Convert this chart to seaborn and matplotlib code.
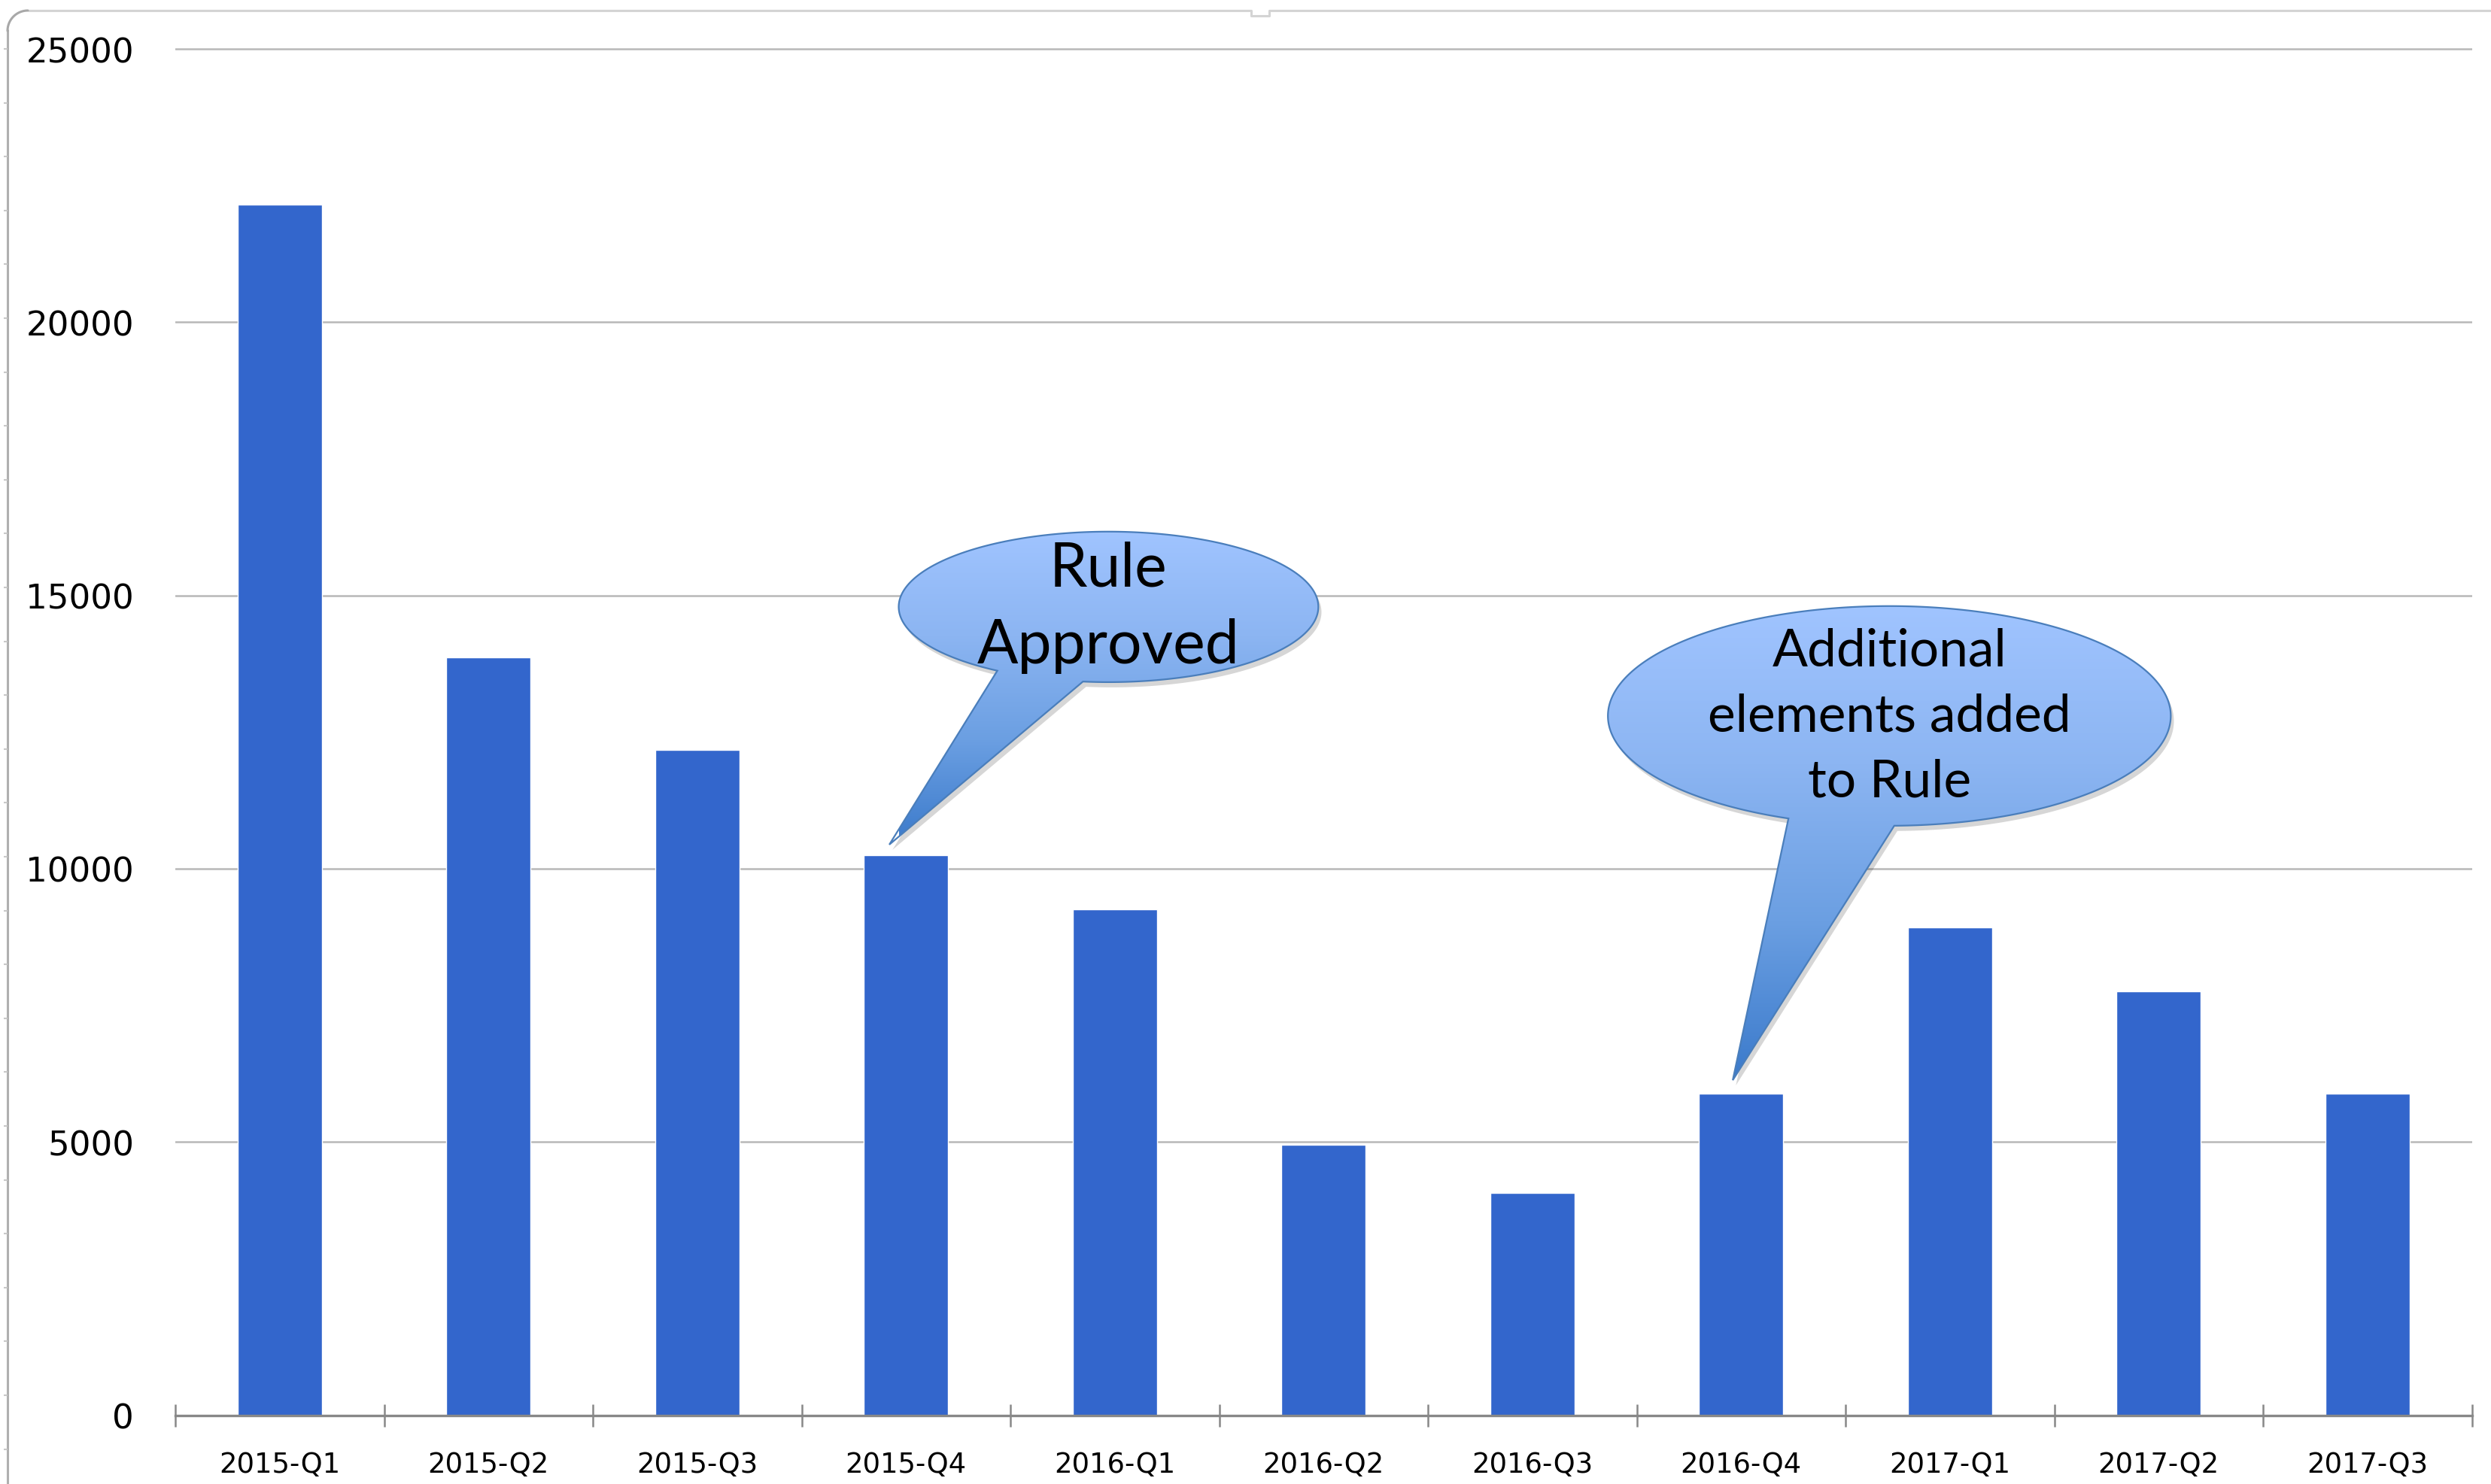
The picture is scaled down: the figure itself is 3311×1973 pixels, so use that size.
import numpy as np
import pandas as pd
import matplotlib
matplotlib.use("Agg")
import matplotlib.pyplot as plt
import matplotlib.transforms as mtransforms
import seaborn as sns
from matplotlib.path import Path
from matplotlib.patches import PathPatch
from matplotlib.lines import Line2D
from matplotlib.colors import LinearSegmentedColormap

# Quarterly counts
quarters = ["2015-Q1", "2015-Q2", "2015-Q3", "2015-Q4", "2016-Q1", "2016-Q2",
            "2016-Q3", "2016-Q4", "2017-Q1", "2017-Q2", "2017-Q3"]
counts = [22150, 13870, 12180, 10250, 9250, 4950, 4070, 5880, 8930, 7760, 5880]

y_ticks = [0, 5000, 10000, 15000, 20000, 25000]

# Speech-bubble notes and the quarter each one points at
note_texts = ["Rule\nApproved", "Additional\nelements added\nto Rule"]
note_quarters = ["2015-Q4", "2016-Q4"]

sns.set_theme(style="white")
plt.rcParams["font.family"] = ["DejaVu Sans"]

W, H = 3311, 1974
fig = plt.figure(figsize=(W / 100, H / 100), dpi=100)
fig.patch.set_facecolor("white")

axis_y = 1882.5          # pixel row of the zero line
px_per_unit = 363.3 / 5000
ymax = 25400
x_left, x_right = 233, 3285.5
ax = fig.add_axes([x_left / W, (H - axis_y) / H,
                   (x_right - x_left) / W, ymax * px_per_unit / H])

df = pd.DataFrame({"quarter": quarters, "count": counts})
sns.barplot(data=df, x="quarter", y="count", color="#3366CC", saturation=1,
            width=0.405, ax=ax, zorder=2)

ax.set_xlim(-0.5, len(quarters) - 0.5)
ax.set_ylim(0, ymax)
ax.set_yticks(y_ticks)
ax.set_xlabel("")
ax.set_ylabel("")
ax.set_axisbelow(True)
ax.yaxis.grid(True, color="#B8B8B8", linewidth=1.8)
ax.xaxis.grid(False)
for side in ["left", "top", "right"]:
    ax.spines[side].set_visible(False)
ax.spines["bottom"].set_color("#888888")
ax.spines["bottom"].set_linewidth(2.4)
ax.spines["bottom"].set_zorder(3)

ax.tick_params(axis="y", length=0, pad=39.5, labelsize=32.5, labelcolor="black")
ax.set_xticks(np.arange(-0.5, len(quarters), 1.0), minor=True)
ax.tick_params(axis="x", which="major", direction="inout", length=17, width=1.8,
               color="#888888", pad=25, labelsize=26.6, labelcolor="black")
ax.tick_params(axis="x", which="minor", direction="inout", length=22, width=1.8,
               color="#888888", bottom=True)


def bubble(ax, cx, cy, a, b, t_left, t_right, tip, text, fontsize):
    """Ellipse with a pointed tail, filled with a vertical blue gradient."""
    t = np.deg2rad(np.linspace(t_right, t_left + 360, 500))
    xs = cx + a * np.cos(t)
    ys = cy + b * np.sin(t)
    verts = np.vstack([np.column_stack([xs, ys]), [tip], [[xs[0], ys[0]]]])
    codes = [Path.MOVETO] + [Path.LINETO] * (len(verts) - 2) + [Path.CLOSEPOLY]
    path = Path(verts, codes)

    shadow_tr = ax.transData + mtransforms.ScaledTranslation(
        3 / 72, -5 / 72, fig.dpi_scale_trans)
    ax.add_patch(PathPatch(path, facecolor=(0, 0, 0, 0.16), edgecolor="none",
                           transform=shadow_tr, zorder=4, clip_on=False))

    clip = PathPatch(path, transform=ax.transData, facecolor="none", edgecolor="none")
    ax.add_patch(clip)
    cmap = LinearSegmentedColormap.from_list(
        "bubble", ["#3B7ACB", "#6B9FE2", "#8CB5F2", "#A0C4FF"])
    grad = np.linspace(0, 1, 256).reshape(-1, 1)
    im = ax.imshow(grad, cmap=cmap, aspect="auto", origin="lower",
                   extent=[cx - a, cx + a, tip[1], cy + b], zorder=5,
                   interpolation="bilinear")
    im.set_clip_path(clip)
    ax.add_patch(PathPatch(path, facecolor="none", edgecolor="#4A7EBB",
                           linewidth=1.6, transform=ax.transData, zorder=6))
    ax.text(cx, cy, text, ha="center", va="center", fontsize=fontsize,
            family=["Lato", "DejaVu Sans"], color="black", linespacing=1.47,
            zorder=7)


i1 = quarters.index(note_quarters[0])
bubble(ax, cx=3.97, cy=14790, a=1.005, b=1377, t_left=238, t_right=263,
       tip=(i1 - 0.08, counts[i1] + 190), text=note_texts[0], fontsize=58)

i2 = quarters.index(note_quarters[1])
bubble(ax, cx=7.71, cy=12795, a=1.348, b=2010, t_left=249, t_right=271,
       tip=(i2 - 0.04, counts[i2] + 250), text=note_texts[1], fontsize=50)

ax.set_xlim(-0.5, len(quarters) - 0.5)
ax.set_ylim(0, ymax)


# Light frame around the chart area
def fx(x):
    return x / W


def fy(y):
    return 1 - y / H


frame_kw = dict(transform=fig.transFigure, solid_capstyle="butt")
fig.add_artist(Line2D([fx(10), fx(10)], [fy(40), fy(H)], color="#B0B0B0",
                      linewidth=2.2, **frame_kw))
fig.add_artist(Line2D([fx(37), fx(1663), fx(1663), fx(1687), fx(1687), fx(W)],
                      [fy(15), fy(15), fy(22), fy(22), fy(15), fy(15)],
                      color="#D4D4D4", linewidth=2.2, **frame_kw))
arc_t = np.linspace(np.pi / 2, np.pi, 20)
fig.add_artist(Line2D(fx(37 + 27 * np.cos(arc_t)), fy(42 - 27 * np.sin(arc_t)),
                      color="#A8A8A8", linewidth=2.2, transform=fig.transFigure))
for yy in np.arange(66, H, 71.6):
    fig.add_artist(Line2D([fx(5), fx(10)], [fy(yy), fy(yy)], color="#C8C8C8",
                          linewidth=1.5, **frame_kw))

fig.savefig("out.png", dpi=100, facecolor="white")
